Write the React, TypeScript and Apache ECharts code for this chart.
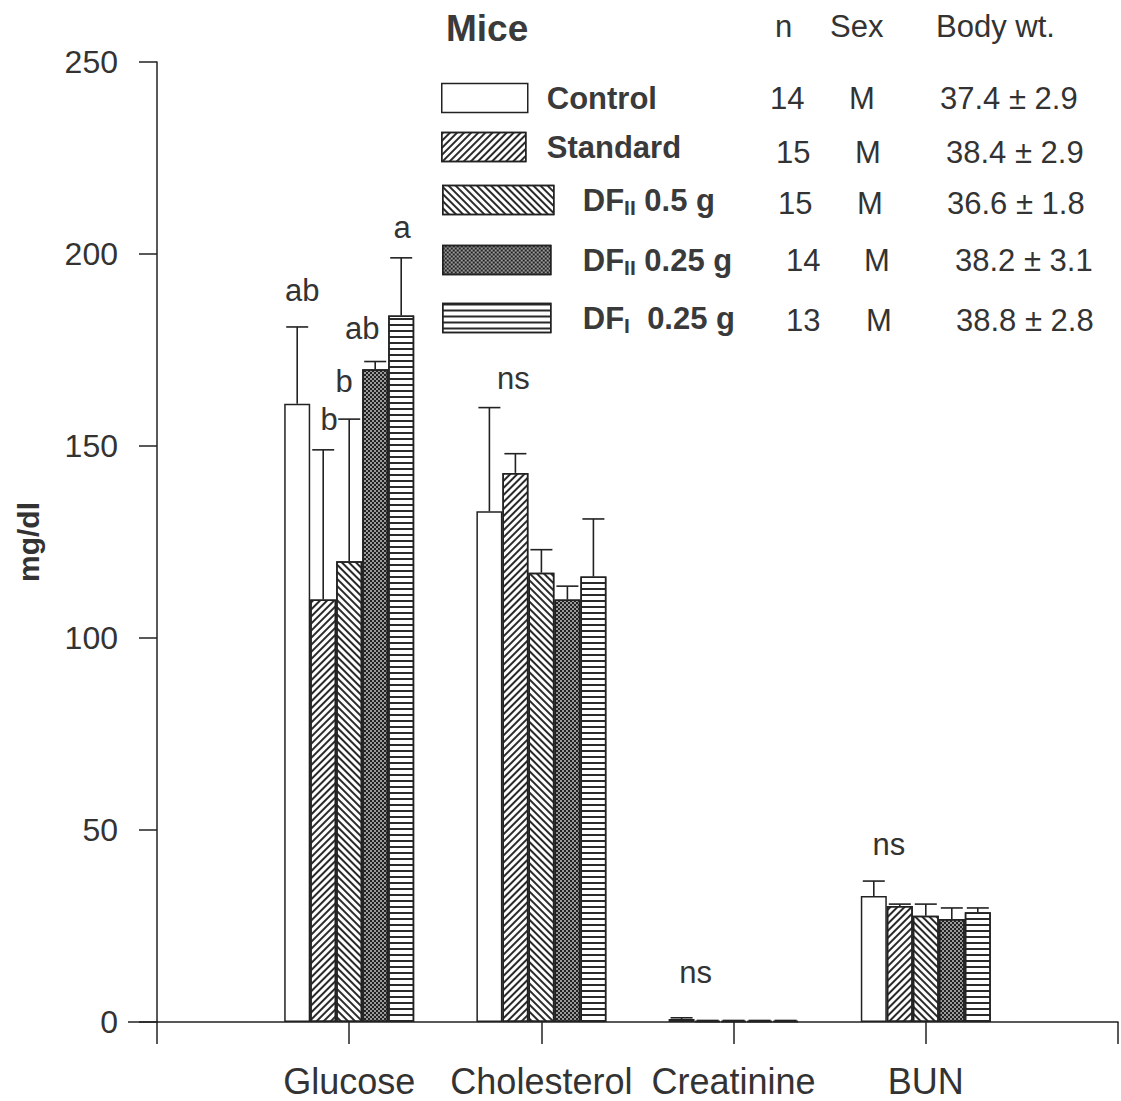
import React, { useEffect, useRef } from "react";
import * as echarts from "echarts";

// ---------- data ----------
const categories = ["", "Glucose", "Cholesterol", "Creatinine", "BUN", ""];
const groupNames = ["Control", "Standard", "DFII 0.5 g", "DFII 0.25 g", "DFI 0.25 g"];

// means per real category (Glucose, Cholesterol, Creatinine, BUN)
const controlMean = [161, 133, 0.8, 32.8];
const standardMean = [110, 143, 0.3, 30.2];
const dfII05Mean = [120, 117, 0.3, 27.7];
const dfII025Mean = [170, 110, 0.3, 26.8];
const dfI025Mean = [184, 116, 0.3, 28.6];

// upper error per real category
const controlErr = [20, 27, 0.3, 3.9];
const standardErr = [39, 5, 0.1, 0.5];
const dfII05Err = [37, 6, 0.1, 3];
const dfII025Err = [2, 3.5, 0.1, 2.9];
const dfI025Err = [15, 15, 0.1, 1.1];

const yTicks = [0, 50, 100, 150, 200, 250];

// significance letters: category index, y value, text
const sigCat = [1, 1, 1, 1, 1, 2, 3, 4];
const sigY = [190.6, 156.8, 166.7, 180.7, 207, 167.7, 12.8, 46.1];
const sigText = ["ab", "b", "b", "ab", "a", "ns", "ns", "ns"];
const sigDx = [-47, -20, -5, 13, 53, -28, -38, -37];

// table in the legend
const nValues = [14, 15, 15, 14, 13];
const sexValues = ["M", "M", "M", "M", "M"];
const bodyWtMean = ["37.4", "38.4", "36.6", "38.2", "38.8"];
const bodyWtSd = ["2.9", "2.9", "1.8", "3.1", "2.8"];

// ---------- styles ----------
const FONT = "Liberation Sans, Arial, sans-serif";
const TXT = "#333";
const LINE = "#222";
const BAR_W = 26;
const CAP = 11;

const means = [controlMean, standardMean, dfII05Mean, dfII025Mean, dfI025Mean];
const errs = [controlErr, standardErr, dfII05Err, dfII025Err, dfI025Err];

const barFill = ["#fff", "#fff", "#fff", "#9a9a9a", "#fff"];
const decals: any[] = [
  null,
  { symbol: "rect", symbolSize: 1, dashArrayX: [1, 0], dashArrayY: [1.2, 2.6], rotation: -Math.PI / 4, color: "#2a2a2a" },
  { symbol: "rect", symbolSize: 1, dashArrayX: [1, 0], dashArrayY: [1.2, 2.6], rotation: Math.PI / 4, color: "#2a2a2a" },
  { symbol: "rect", symbolSize: 1, dashArrayX: [[2, 2], [0, 2, 2, 0]], dashArrayY: [2, 0], rotation: 0, color: "#222" },
  { symbol: "rect", symbolSize: 1, dashArrayX: [1, 0], dashArrayY: [1.7, 3.7], rotation: 0, color: "#2a2a2a" },
];

const legendRich: Record<string, string> = {
  Control: "{m|Control}",
  Standard: "{m|Standard}",
  "DFII 0.5 g": "{m|DF}{sub|II}{m| 0.5 g}",
  "DFII 0.25 g": "{m|DF}{sub|II}{m| 0.25 g}",
  "DFI 0.25 g": "{m|DF}{sub|I}{m|  0.25 g}",
};

// legend layout (pixels)
const legendLeft = [441, 441, 442, 442, 442];
const legendIconW = [86, 84, 111, 108, 108];
const legendTextPad = [14, 16, 24, 27, 27];
const legendCenterY = [98, 147, 200, 260, 318];

const tableY = [98, 152, 203, 260, 320];
const nX = [770, 776, 778, 786, 786];
const sexX = [849, 855, 857, 864, 866];
const wtX = [940, 946, 947, 955, 956];

export default function App() {
  const ref = useRef<HTMLDivElement>(null);
  useEffect(() => {
    if (!ref.current) return;
    const chart = echarts.init(ref.current, null, { renderer: "svg" });

    const barSeries = groupNames.map((name, s) => ({
      name,
      type: "bar",
      barWidth: BAR_W,
      barGap: "0%",
      data: ["-", ...means[s], "-"],
      itemStyle: {
        color: barFill[s],
        borderColor: LINE,
        borderWidth: 1.5,
        decal: decals[s] || undefined,
      },
      z: 2,
    }));

    const errData: number[][] = [];
    for (let s = 0; s < 5; s++) {
      for (let c = 0; c < 4; c++) {
        errData.push([c + 1, s, means[s][c], errs[s][c]]);
      }
    }

    const option: any = {
      animation: false,
      backgroundColor: "#fff",
      grid: { left: 157, right: 1, top: 62, bottom: 79, containLabel: false },
      legend: groupNames.map((name, i) => ({
        data: [name],
        left: legendLeft[i],
        top: legendCenterY[i] - 18,
        padding: 0,
        icon: "rect",
        itemWidth: legendIconW[i],
        itemHeight: 29,
        selectedMode: false,
        itemStyle: { borderColor: LINE, borderWidth: 1.5 },
        formatter: (n: string) => legendRich[n],
        textStyle: {
          padding: [0, 0, 0, legendTextPad[i]],
          lineHeight: 36,
          rich: {
            m: { fontSize: 31, fontWeight: "bold", color: "#3a3a3a", fontFamily: FONT, lineHeight: 36 },
            sub: { fontSize: 21, fontWeight: "bold", color: "#3a3a3a", fontFamily: FONT, lineHeight: 20, verticalAlign: "bottom" },
          },
        },
      })),
      xAxis: {
        type: "category",
        data: categories,
        boundaryGap: false,
        axisLine: { lineStyle: { color: LINE, width: 1.5 } },
        axisTick: { show: true, interval: 0, length: 22, lineStyle: { color: LINE, width: 1.5 } },
        axisLabel: { interval: 0, fontSize: 36, color: TXT, fontFamily: FONT, margin: 41 },
        splitLine: { show: false },
      },
      yAxis: {
        type: "value",
        min: yTicks[0],
        max: yTicks[yTicks.length - 1],
        interval: 50,
        name: "mg/dl",
        nameLocation: "middle",
        nameGap: 114,
        nameRotate: 90,
        nameTextStyle: { fontSize: 30, fontWeight: "bold", color: TXT, fontFamily: FONT },
        axisLine: { show: true, lineStyle: { color: LINE, width: 1.5 } },
        axisTick: { show: true, length: 18, lineStyle: { color: LINE, width: 1.5 } },
        axisLabel: { fontSize: 32, color: TXT, fontFamily: FONT, margin: 39 },
        splitLine: { show: false },
      },
      series: [
        ...barSeries,
        {
          type: "custom",
          name: "err",
          data: errData,
          encode: { x: 0, y: 2 },
          z: 3,
          renderItem: (params: any, api: any) => {
            const cat = api.value(0);
            const s = api.value(1);
            const m = api.value(2);
            const e = api.value(3);
            const base = api.coord([cat, m]);
            const top = api.coord([cat, m + e]);
            const x = base[0] + (s - 2) * BAR_W;
            return {
              type: "group",
              children: [
                { type: "line", shape: { x1: x, y1: base[1], x2: x, y2: top[1] }, style: { stroke: LINE, lineWidth: 1.6 } },
                { type: "line", shape: { x1: x - CAP, y1: top[1], x2: x + CAP, y2: top[1] }, style: { stroke: LINE, lineWidth: 1.6 } },
              ],
            };
          },
        },
        {
          type: "custom",
          name: "sig",
          data: sigCat.map((c, i) => [c, sigY[i]]),
          encode: { x: 0, y: 1 },
          z: 4,
          renderItem: (params: any, api: any) => {
            const i = params.dataIndex;
            const p = api.coord([api.value(0), api.value(1)]);
            return {
              type: "text",
              x: p[0] + sigDx[i],
              y: p[1],
              style: {
                text: sigText[i],
                fontSize: 31,
                fontFamily: FONT,
                fill: TXT,
                align: "center",
                verticalAlign: "middle",
              },
            };
          },
        },
      ],
      graphic: [
        { type: "line", shape: { x1: 128, y1: 1022, x2: 158, y2: 1022 }, style: { stroke: LINE, lineWidth: 1.5 } },
        { type: "text", x: 446, y: 28, style: { text: "Mice", fontSize: 37, fontWeight: "bold", fontFamily: FONT, fill: "#3a3a3a", verticalAlign: "middle" } },
        { type: "text", x: 775, y: 26, style: { text: "n", fontSize: 31, fontFamily: FONT, fill: TXT, verticalAlign: "middle" } },
        { type: "text", x: 830, y: 26, style: { text: "Sex", fontSize: 31, fontFamily: FONT, fill: TXT, verticalAlign: "middle" } },
        { type: "text", x: 936, y: 26, style: { text: "Body wt.", fontSize: 31, fontFamily: FONT, fill: TXT, verticalAlign: "middle" } },
        ...nValues.map((n, i) => ({ type: "text", x: nX[i], y: tableY[i], style: { text: String(n), fontSize: 31, fontFamily: FONT, fill: TXT, verticalAlign: "middle" } })),
        ...sexValues.map((s, i) => ({ type: "text", x: sexX[i], y: tableY[i], style: { text: s, fontSize: 31, fontFamily: FONT, fill: TXT, verticalAlign: "middle" } })),
        ...bodyWtMean.map((m, i) => ({ type: "text", x: wtX[i], y: tableY[i], style: { text: `${m} ± ${bodyWtSd[i]}`, fontSize: 31, fontFamily: FONT, fill: TXT, verticalAlign: "middle" } })),
      ],
    };

    chart.setOption(option);
    return () => chart.dispose();
  }, []);

  return <div ref={ref} style={{ position: "absolute", left: 0, top: 0, width: 1121, height: 1101 }} />;
}
